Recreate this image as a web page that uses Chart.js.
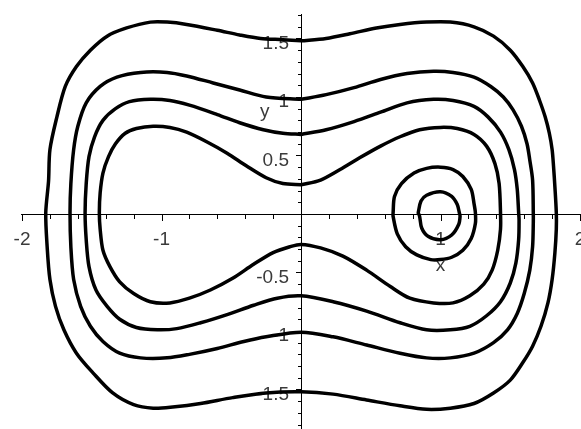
<!DOCTYPE html>
<html>
<head>
<meta charset="utf-8">
<script src="https://cdn.jsdelivr.net/npm/chart.js@4"></script>
<style>
  html, body { margin: 0; padding: 0; background: #fff; }
  canvas { display: block; }
</style>
</head>
<body>
<canvas id="contourChart" width="581" height="429"></canvas>
<script>
// Level curves as [x, y] pairs, each loop walked clockwise from its top point.
const outerLevel = [
  [0, 1.48], [0.18, 1.50], [0.35, 1.54], [0.54, 1.59], [0.71, 1.62], [0.90, 1.64], [1.07, 1.64],
  [1.24, 1.60], [1.38, 1.52], [1.50, 1.40], [1.59, 1.26], [1.66, 1.12], [1.71, 0.97], [1.75, 0.83],
  [1.78, 0.69], [1.80, 0.55], [1.81, 0.41], [1.82, 0.23], [1.83, 0.01], [1.83, -0.13], [1.82, -0.33],
  [1.80, -0.56], [1.77, -0.76], [1.72, -0.96], [1.66, -1.13], [1.59, -1.27], [1.50, -1.42],
  [1.38, -1.53], [1.24, -1.62], [1.07, -1.66], [0.90, -1.67], [0.71, -1.64], [0.47, -1.59],
  [0.23, -1.54], [0, -1.52], [-0.25, -1.53], [-0.49, -1.57], [-0.72, -1.62], [-0.92, -1.65],
  [-1.06, -1.66], [-1.20, -1.63], [-1.35, -1.53], [-1.49, -1.36], [-1.61, -1.19], [-1.70, -0.99],
  [-1.76, -0.79], [-1.80, -0.56], [-1.82, -0.28], [-1.83, 0.01], [-1.81, 0.28], [-1.80, 0.55],
  [-1.75, 0.83], [-1.69, 1.09], [-1.61, 1.26], [-1.51, 1.40], [-1.39, 1.52], [-1.25, 1.59],
  [-1.08, 1.64], [-0.96, 1.64], [-0.82, 1.62], [-0.60, 1.57], [-0.44, 1.53], [-0.29, 1.50],
  [-0.13, 1.49], [0, 1.48]
];
const thirdLevel = [
  [0, 0.98], [0.18, 1.02], [0.38, 1.08], [0.57, 1.15], [0.76, 1.20], [0.95, 1.22], [1.09, 1.21],
  [1.24, 1.17], [1.36, 1.09], [1.45, 1.00], [1.52, 0.89], [1.58, 0.75], [1.62, 0.60], [1.64, 0.46],
  [1.66, 0.29], [1.665, 0.01], [1.665, -0.08], [1.66, -0.28], [1.64, -0.48], [1.60, -0.68],
  [1.55, -0.85], [1.48, -0.99], [1.38, -1.10], [1.24, -1.19], [1.07, -1.23], [0.90, -1.23],
  [0.71, -1.19], [0.47, -1.12], [0.23, -1.05], [0, -1.01], [-0.25, -1.05], [-0.41, -1.09],
  [-0.60, -1.15], [-0.80, -1.20], [-0.96, -1.23], [-1.15, -1.23], [-1.30, -1.19], [-1.42, -1.09],
  [-1.51, -0.96], [-1.58, -0.79], [-1.63, -0.56], [-1.65, -0.28], [-1.656, 0.01], [-1.65, 0.26],
  [-1.63, 0.55], [-1.60, 0.75], [-1.54, 0.95], [-1.44, 1.09], [-1.32, 1.17], [-1.15, 1.21],
  [-0.96, 1.21], [-0.82, 1.18], [-0.63, 1.12], [-0.44, 1.06], [-0.25, 1.00], [0, 0.98]
];
const secondLevel = [
  [0, 0.68], [0.18, 0.72], [0.38, 0.79], [0.57, 0.87], [0.76, 0.95], [0.95, 0.98], [1.09, 0.97],
  [1.24, 0.92], [1.34, 0.83], [1.43, 0.70], [1.49, 0.55], [1.53, 0.38], [1.55, 0.21], [1.56, 0.01],
  [1.563, -0.05], [1.56, -0.22], [1.54, -0.42], [1.50, -0.59], [1.43, -0.75], [1.33, -0.87],
  [1.21, -0.96], [1.07, -0.99], [0.90, -0.99], [0.71, -0.93], [0.47, -0.83], [0.23, -0.75],
  [0, -0.70], [-0.17, -0.72], [-0.34, -0.78], [-0.53, -0.86], [-0.72, -0.93], [-0.89, -0.98],
  [-1.03, -0.99], [-1.18, -0.97], [-1.30, -0.90], [-1.39, -0.79], [-1.47, -0.65], [-1.52, -0.45],
  [-1.54, -0.22], [-1.548, 0.01], [-1.54, 0.26], [-1.52, 0.49], [-1.48, 0.66], [-1.42, 0.80],
  [-1.33, 0.90], [-1.23, 0.96], [-1.08, 0.98], [-0.94, 0.97], [-0.80, 0.93], [-0.60, 0.85],
  [-0.44, 0.78], [-0.27, 0.72], [-0.13, 0.69], [0, 0.68]
];
const innerLevel = [
  [0, 0.25], [0.14, 0.29], [0.28, 0.38], [0.42, 0.48], [0.57, 0.58], [0.71, 0.66], [0.85, 0.72],
  [1.00, 0.74], [1.12, 0.73], [1.24, 0.68], [1.33, 0.58], [1.39, 0.43], [1.42, 0.26], [1.43, 0.01],
  [1.43, -0.13], [1.41, -0.31], [1.37, -0.48], [1.31, -0.60], [1.21, -0.70], [1.09, -0.76],
  [0.95, -0.76], [0.78, -0.72], [0.64, -0.62], [0.47, -0.48], [0.30, -0.36], [0.14, -0.29],
  [0, -0.26], [-0.08, -0.28], [-0.20, -0.33], [-0.34, -0.43], [-0.49, -0.55], [-0.65, -0.65],
  [-0.80, -0.72], [-0.94, -0.76], [-1.08, -0.75], [-1.20, -0.68], [-1.30, -0.58], [-1.37, -0.45],
  [-1.42, -0.31], [-1.44, -0.13], [-1.446, 0.01], [-1.44, 0.18], [-1.42, 0.35], [-1.38, 0.49],
  [-1.33, 0.60], [-1.26, 0.69], [-1.18, 0.73], [-1.06, 0.75], [-0.94, 0.74], [-0.82, 0.70],
  [-0.68, 0.62], [-0.53, 0.52], [-0.39, 0.41], [-0.25, 0.31], [-0.13, 0.26], [0, 0.25]
];
const wellRing = [
  [0.66, 0.01], [0.67, 0.15], [0.72, 0.26], [0.81, 0.35], [0.90, 0.39], [1.00, 0.40], [1.09, 0.38],
  [1.16, 0.32], [1.22, 0.21], [1.24, 0.09], [1.25, 0.01], [1.25, -0.08], [1.22, -0.21],
  [1.16, -0.31], [1.08, -0.37], [1.00, -0.39], [0.93, -0.39], [0.83, -0.35], [0.75, -0.28],
  [0.69, -0.17], [0.66, -0.02], [0.66, 0.01]
];
const wellCore = [
  [0.84, 0.01], [0.86, 0.11], [0.90, 0.16], [1.00, 0.19], [1.08, 0.15], [1.12, 0.08], [1.135, 0.01],
  [1.14, -0.02], [1.13, -0.09], [1.08, -0.18], [1.00, -0.22], [0.91, -0.19], [0.865, -0.12],
  [0.85, -0.02], [0.84, 0.01]
];

const xTickLabels = [-2, -1, 1, 2];
const yTickLabels = [-1.5, -1, -0.5, 0.5, 1, 1.5];

const curves = [outerLevel, thirdLevel, secondLevel, innerLevel, wellRing, wellCore];

// axes crossing at the origin, drawn underneath the curves
const crossAxes = {
  id: 'crossAxes',
  beforeDatasetsDraw(chart) {
    const { ctx, chartArea, scales: { x, y } } = chart;
    const x0 = x.getPixelForValue(0);
    const y0 = y.getPixelForValue(0);
    ctx.save();
    ctx.strokeStyle = '#000';
    ctx.lineWidth = 1;
    ctx.beginPath();
    ctx.moveTo(Math.round(x.getPixelForValue(-2.01)), Math.round(y0) + 0.5);
    ctx.lineTo(chartArea.right, Math.round(y0) + 0.5);
    ctx.moveTo(Math.round(x0) + 0.5, Math.round(y.getPixelForValue(1.71)));
    ctx.lineTo(Math.round(x0) + 0.5, chartArea.bottom);
    // x ticks every 0.2, hanging below the axis
    for (let i = -10; i <= 10; i++) {
      const px = Math.round(x.getPixelForValue(i / 5)) + 0.5;
      const len = i % 5 === 0 ? 7 : 5;
      ctx.moveTo(px, Math.round(y0));
      ctx.lineTo(px, Math.round(y0) + len);
    }
    // y ticks every 0.1, to the left of the axis
    for (let i = -18; i <= 17; i++) {
      const py = Math.round(y.getPixelForValue(i / 10)) + 0.5;
      const len = i % 5 === 0 ? 6 : 4;
      ctx.moveTo(Math.round(x0) + 1, py);
      ctx.lineTo(Math.round(x0) + 1 - len, py);
    }
    ctx.stroke();

    ctx.fillStyle = '#3a3a3a';
    ctx.font = '19px "Liberation Sans", Arial, sans-serif';
    ctx.textBaseline = 'middle';
    ctx.textAlign = 'center';
    xTickLabels.forEach(v => {
      ctx.fillText(String(v), x.getPixelForValue(v), y0 + 26);
    });
    ctx.textAlign = 'right';
    yTickLabels.forEach(v => {
      ctx.fillText(String(v), x0 - 12, y.getPixelForValue(v) + 5);
    });
    ctx.textAlign = 'center';
    ctx.fillText('x', x.getPixelForValue(1.0), y.getPixelForValue(-0.44));
    ctx.fillText('y', x.getPixelForValue(-0.26), y.getPixelForValue(0.87));
    ctx.restore();
  }
};

new Chart(document.getElementById('contourChart'), {
  type: 'scatter',
  data: {
    datasets: curves.map(c => ({
      data: c.map(([px, py]) => ({ x: px, y: py })),
      showLine: true,
      tension: 0.3,
      borderColor: '#000',
      borderWidth: 3.5,
      borderJoinStyle: 'round',
      borderCapStyle: 'round',
      pointRadius: 0,
      fill: false
    }))
  },
  options: {
    responsive: false,
    animation: false,
    events: [],
    layout: { padding: 0 },
    plugins: { legend: { display: false }, tooltip: { enabled: false } },
    scales: {
      x: { type: 'linear', display: false, min: -2.158, max: 2.007 },
      y: { type: 'linear', display: false, min: -1.838, max: 1.829 }
    }
  },
  plugins: [crossAxes]
});
</script>
</body>
</html>
